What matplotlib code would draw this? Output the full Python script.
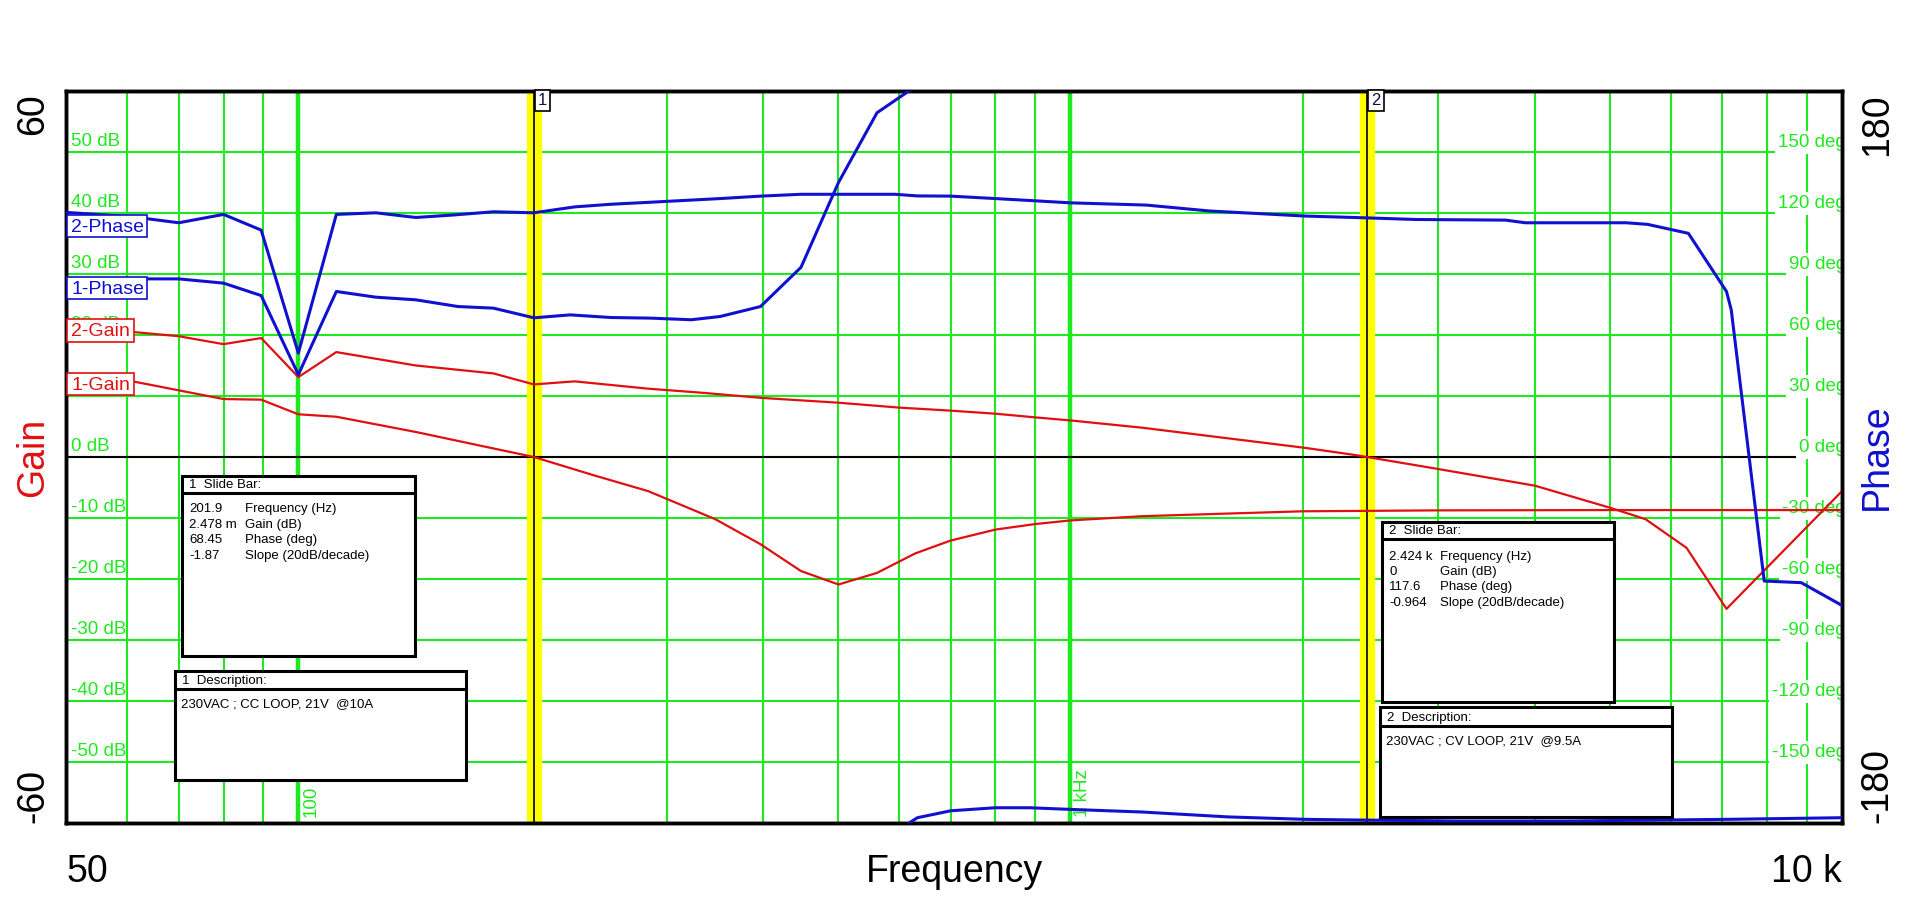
import numpy as np
import matplotlib
matplotlib.use('Agg')
import matplotlib.pyplot as plt
from matplotlib.patches import Rectangle
from matplotlib.lines import Line2D
from matplotlib import transforms as mtrans

plt.rcParams['font.family'] = ['Liberation Sans', 'DejaVu Sans']

# ---------------- data ----------------
f_gain1 = [50, 61, 80, 89.5, 100, 112, 142, 179, 201.9, 240, 284, 347, 397, 448, 501,
           562, 630, 700, 800, 900, 1000, 1240, 2000, 3000, 5000, 10000]
gain1 = [13.2, 12.4, 9.5, 9.4, 7.0, 6.6, 4.1, 1.4, 0.0, -2.9, -5.6, -10.2, -14.3, -18.7, -20.9,
         -19.0, -15.8, -13.7, -11.9, -11.0, -10.4, -9.7, -8.9, -8.75, -8.7, -8.7]

f_gain2 = [50, 61, 70, 80, 89.5, 100, 112, 142, 179, 201.9, 228, 284, 336, 397, 501, 600,
           700, 800, 900, 1000, 1240, 2015, 2318, 2424, 2976, 4000, 5000, 5566, 6290, 7085, 10000]
gain2 = [21.0, 20.5, 19.8, 18.5, 19.5, 13.1, 17.2, 15.0, 13.7, 11.9, 12.4, 11.2, 10.5, 9.7, 8.9, 8.1,
         7.6, 7.1, 6.5, 6.0, 4.8, 1.5, 0.4, 0.0, -1.9, -4.7, -8.3, -10.2, -14.9, -24.9, -5.6]

# phase of trace 1, unwrapped (values above 180 wrap to the bottom of the chart)
f_phase1 = [50, 70, 80, 89.5, 100, 112, 126, 142, 161, 179, 201.9, 225, 254, 286, 323, 352,
            397, 448, 501, 562, 613, 634, 700, 800, 886, 1000, 1240, 1600, 2015, 2318,
            3150, 4460, 7100, 10000]
phase1 = [87.6, 87.6, 85.5, 79.4, 40.5, 81.4, 78.6, 77.3, 74.0, 73.2, 68.45, 69.9, 68.6, 68.3, 67.5, 69.1,
          74.0, 93.3, 135.0, 169.3, 179.1, 182.6, 186.0, 187.5, 187.5, 186.7, 185.4, 183.0, 181.8, 181.5,
          181.0, 181.0, 181.8, 182.6]

f_phase2 = [50, 61, 70, 80, 89.5, 100, 112, 126, 142, 158.5, 179, 201.9, 228, 254, 286, 352,
            397, 448, 593, 634, 700, 800, 900, 1000, 1255, 1514, 2015, 2424, 2809, 3666,
            3886, 5254, 5600, 6324, 7085, 7186, 7929, 8855, 10000]
phase2 = [120.3, 118.1, 115.2, 119.3, 111.6, 51.1, 119.3, 120.1, 117.8, 119.0, 120.6, 120.1, 123.0, 124.3, 125.3, 127.1,
          128.3, 129.2, 129.2, 128.4, 128.3, 127.1, 126.0, 125.0, 123.9, 121.0, 118.5, 117.6, 116.8, 116.5,
          115.2, 115.2, 114.4, 110.0, 81.4, 72.4, -61.0, -61.8, -73.0]

marker_freqs = [201.9, 2424]
marker_names = ['1', '2']

gain_grid = [-50, -40, -30, -20, -10, 0, 10, 20, 30, 40, 50]
phase_grid = [-150, -120, -90, -60, -30, 0, 30, 60, 90, 120, 150]
freq_major = [100, 1000]
freq_minor = [60, 70, 80, 90, 200, 300, 400, 500, 600, 700, 800, 900,
              2000, 3000, 4000, 5000, 6000, 7000, 8000, 9000]

series_names = ['2-Phase', '1-Phase', '2-Gain', '1-Gain']
slide_labels = ['Frequency (Hz)', 'Gain (dB)', 'Phase (deg)', 'Slope (20dB/decade)']
slide1_values = ['201.9', '2.478 m', '68.45', '-1.87']
slide2_values = ['2.424 k', '0', '117.6', '-0.964']
desc1 = '230VAC ; CC LOOP, 21V  @10A'
desc2 = '230VAC ; CV LOOP, 21V  @9.5A'

# ---------------- styling ----------------
GREEN = '#1EE81E'
RED = '#E01010'
BLUE = '#1010D0'
YELLOW = '#FFFF00'

W, H = 1910, 916
fig = plt.figure(figsize=(W / 100, H / 100), dpi=100)
fig.patch.set_facecolor('white')
AX_L, AX_R, AX_T, AX_B = 66, 1842, 91, 823
ax = fig.add_axes([AX_L / W, 1 - AX_B / H, (AX_R - AX_L) / W, (AX_B - AX_T) / H])
ax.set_xscale('log')
ax.set_xlim(50, 10000)
ax.set_ylim(-60, 60)
ax.set_xticks(freq_major)
ax.set_xticks(freq_minor, minor=True)
ax.set_yticks(gain_grid)
ax.set_axisbelow(True)
ax.grid(which='major', axis='x', color=GREEN, lw=3.2)
ax.grid(which='minor', axis='x', color=GREEN, lw=1.5)
ax.grid(which='major', axis='y', color=GREEN, lw=1.5)
ax.tick_params(which='both', length=0, labelbottom=False, labelleft=False)

ax2 = ax.twinx()
ax2.set_ylim(-180, 180)
ax2.set_yticks([])
ax2.tick_params(which='both', length=0, labelright=False)

for a in (ax, ax2):
    for s in a.spines.values():
        s.set_linewidth(2.5)
        s.set_color('black')

# zero line
ax.axhline(0, color='black', lw=1.5, zorder=2)

# slide bar markers
for fm in marker_freqs:
    ax.axvline(fm, color=YELLOW, lw=11, zorder=1.6)
    ax.axvline(fm, color='black', lw=1.2, zorder=1.7)

# green value labels on the left (gain) and right (phase)
for v in gain_grid:
    off = mtrans.offset_copy(ax.get_yaxis_transform(), fig=fig, x=5, y=2, units='dots')
    ax.text(0, v, f'{v} dB', transform=off, ha='left', va='bottom', color=GREEN,
            fontsize=13.5, zorder=2.5)
ptrans = mtrans.blended_transform_factory(ax.transAxes, ax2.transData)
for v in phase_grid:
    off = mtrans.offset_copy(ptrans, fig=fig, x=4, y=1, units='dots')
    ax.text(1, v, f'{v} deg', transform=off, ha='right', va='bottom', color=GREEN,
            fontsize=13.5, zorder=2.5, clip_on=True,
            bbox=dict(boxstyle='square,pad=0.15', fc='white', ec='none'))

# rotated frequency labels
for fv, lab in [(100, '100'), (1000, '1 kHz')]:
    off = mtrans.offset_copy(ax.get_xaxis_transform(), fig=fig, x=4, y=6, units='dots')
    ax.text(fv, 0, lab, transform=off, rotation=90, ha='left', va='bottom',
            color=GREEN, fontsize=13.5, zorder=2.5)

# curves
ax.plot(f_gain1, gain1, color=RED, lw=1.6, zorder=3)
ax.plot(f_gain2, gain2, color=RED, lw=1.6, zorder=3)
p1 = np.array(phase1)
ax2.plot(f_phase1, p1, color=BLUE, lw=2.2, zorder=3)
ax2.plot(f_phase1, p1 - 360, color=BLUE, lw=2.2, zorder=3)
ax2.plot(f_phase2, phase2, color=BLUE, lw=2.2, zorder=3)

# marker number boxes
for fm, nm in zip(marker_freqs, marker_names):
    ax2.annotate(nm, xy=(fm, 1), xycoords=('data', 'axes fraction'), xytext=(4, -2),
                 textcoords='offset pixels', ha='left', va='top', fontsize=12, color='#101040',
                 bbox=dict(boxstyle='square,pad=0.2', fc='white', ec='black', lw=1.2), zorder=6)

# ---------------- figure level helpers ----------------
def frect(x0, y0, x1, y1, ec='black', lw=2.0):
    fig.add_artist(Rectangle((x0 / W, 1 - y1 / H), (x1 - x0) / W, (y1 - y0) / H,
                             transform=fig.transFigure, fc='white', ec=ec, lw=lw, zorder=4))

def fline(x0, x1, y, lw=2.0):
    fig.add_artist(Line2D([x0 / W, x1 / W], [1 - y / H, 1 - y / H], transform=fig.transFigure,
                          color='black', lw=lw, zorder=5))

def ftext(x, y, s, **kw):
    kw.setdefault('zorder', 6)
    fig.text(x / W, 1 - y / H, s, **kw)

# series labels
series_boxes = [(67, 215, 147, 237), (67, 277, 147, 299), (67, 319, 134, 342), (67, 373, 134, 395)]
series_colors = [BLUE, BLUE, RED, RED]
for nm, (x0, y0, x1, y1), c in zip(series_names, series_boxes, series_colors):
    frect(x0, y0, x1, y1, ec=c, lw=1.2)
    ftext(x0 + 4, (y0 + y1) / 2 + 1, nm, color=c, fontsize=14, ha='left', va='center')

# slide bar boxes
def slide_box(x0, y0, x1, y1, yh, title, vals, xv, xl, rows_y):
    frect(x0, y0, x1, y1, lw=2.2)
    fline(x0, x1, yh, lw=2.2)
    ftext(x0 + 7, (y0 + yh) / 2 + 1, title, fontsize=9.5, ha='left', va='center')
    for v, lab, ry in zip(vals, slide_labels, rows_y):
        ftext(xv, ry, v, fontsize=9.5, ha='left', va='center')
        ftext(xl, ry, lab, fontsize=9.5, ha='left', va='center')

slide_box(182, 476, 415, 656, 493, '1  Slide Bar:', slide1_values, 189, 245, [509, 525, 540, 556])
slide_box(1382, 522, 1614, 702, 539, '2  Slide Bar:', slide2_values, 1389, 1440, [557, 572, 587, 603])

def desc_box(x0, y0, x1, y1, yh, title, body):
    frect(x0, y0, x1, y1, lw=2.2)
    fline(x0, x1, yh, lw=2.2)
    ftext(x0 + 7, (y0 + yh) / 2 + 1, title, fontsize=9.5, ha='left', va='center')
    ftext(x0 + 6, yh + 15, body, fontsize=9.5, ha='left', va='center')

desc_box(175, 671, 466, 780, 689, '1  Description:', desc1)
desc_box(1380, 707, 1672, 817, 726, '2  Description:', desc2)

# big axis texts
BIG = 27
ftext(33, 93, '60', rotation=90, ha='center', va='top', fontsize=BIG, color='black')
ftext(33, 823, '-60', rotation=90, ha='center', va='bottom', fontsize=BIG, color='black')
ftext(33, 457, 'Gain', rotation=90, ha='center', va='center', fontsize=BIG, color=RED)
ftext(1877, 93, '180', rotation=90, ha='center', va='top', fontsize=BIG, color='black')
ftext(1877, 823, '-180', rotation=90, ha='center', va='bottom', fontsize=BIG, color='black')
ftext(1877, 457, 'Phase', rotation=90, ha='center', va='center', fontsize=BIG, color=BLUE)
ftext(67, 882, '50', ha='left', va='baseline', fontsize=BIG, color='black')
ftext(1842, 882, '10 k', ha='right', va='baseline', fontsize=BIG, color='black')
ftext(954, 882, 'Frequency', ha='center', va='baseline', fontsize=BIG, color='black')

fig.savefig('out.png', dpi=100, facecolor='white')
